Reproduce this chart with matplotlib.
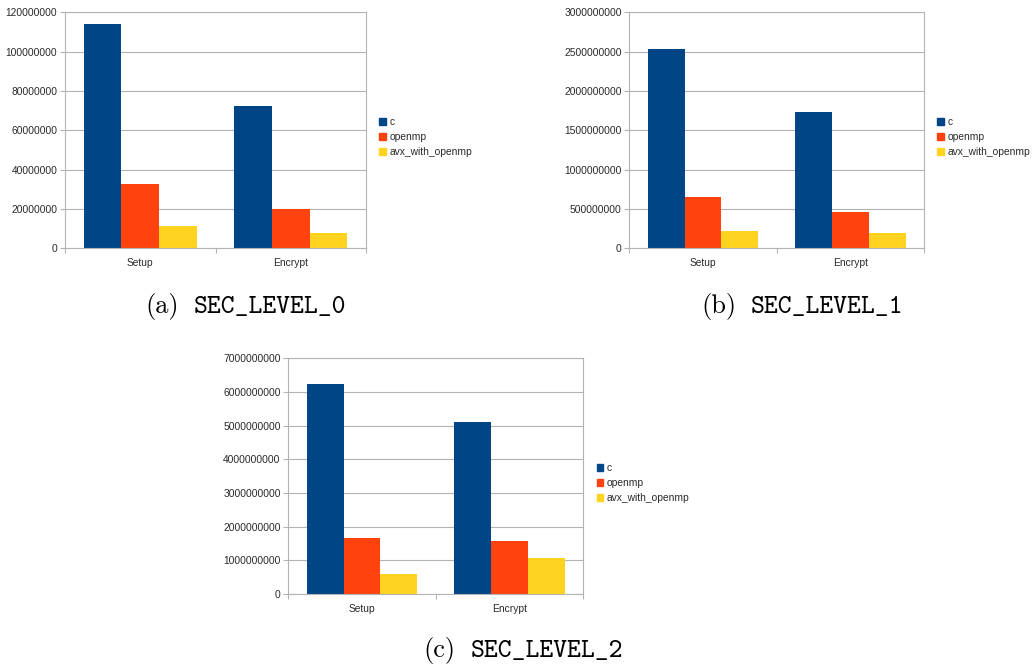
import numpy as np
import matplotlib
matplotlib.use("Agg")
import matplotlib.pyplot as plt
from matplotlib import ticker
from matplotlib.patches import Patch

plt.rcParams['font.family'] = ['Liberation Sans', 'DejaVu Sans']

# timings per security level (cycles)
categories = ['Setup', 'Encrypt']
series = ['c', 'openmp', 'avx_with_openmp']
colors = ['#004586', '#ff420e', '#ffd320']

level0_c = [113.9e6, 72.4e6]
level0_openmp = [32.5e6, 19.8e6]
level0_avx = [11.2e6, 7.8e6]

level1_c = [2538e6, 1733e6]
level1_openmp = [648e6, 462e6]
level1_avx = [220e6, 195e6]

level2_c = [6228e6, 5099e6]
level2_openmp = [1673e6, 1564e6]
level2_avx = [584e6, 1059e6]

captions = ['(a)', '(b)', '(c)']
level_names = ['SEC_LEVEL_0', 'SEC_LEVEL_1', 'SEC_LEVEL_2']

grey = '#b3b3b3'
text_col = '#2a2a2a'
fs = 7.4

fig = plt.figure(figsize=(10.32, 6.66), dpi=100)
W, H = 1032, 666


def px_axes(left, right, top, bottom):
    return fig.add_axes([left / W, 1 - bottom / H, (right - left) / W, (bottom - top) / H])


panels = [
    (px_axes(65, 366, 12.3, 248.3), [level0_c, level0_openmp, level0_avx], 120e6, 20e6, (1.044, 0.4716)),
    (px_axes(629.3, 924, 12.3, 248.3), [level1_c, level1_openmp, level1_avx], 3000e6, 500e6, (1.045, 0.4716)),
    (px_axes(288.3, 583, 358.3, 594), [level2_c, level2_openmp, level2_avx], 7000e6, 1000e6, (1.0465, 0.471)),
]

x = np.arange(len(categories))
bw = 0.25
for ax, data, ymax, step, leg_pos in panels:
    for i, (vals, col) in enumerate(zip(data, colors)):
        ax.bar(x + (i - 1) * bw, vals, bw, color=col, label=series[i], zorder=2)
    ax.set_xlim(-0.5, 1.5)
    ax.set_ylim(0, ymax)
    ax.set_yticks(np.arange(0, ymax + step / 2, step))
    ax.yaxis.set_major_formatter(ticker.StrMethodFormatter('{x:.0f}'))
    ax.set_axisbelow(True)
    ax.grid(axis='y', color=grey, lw=0.8, zorder=0)
    for sp in ax.spines.values():
        sp.set_color(grey)
        sp.set_linewidth(0.8)
    ax.tick_params(axis='y', length=3.5, width=0.8, color=grey, labelcolor=text_col,
                   labelsize=fs, pad=2)
    ax.set_xticks(x)
    ax.set_xticklabels(categories)
    ax.set_xticks([-0.5, 0.5, 1.5], minor=True)
    ax.tick_params(axis='x', which='major', length=0, pad=7, labelcolor=text_col, labelsize=fs)
    ax.tick_params(axis='x', which='minor', length=3.5, width=0.8, color=grey)
    handles = [Patch(color=c) for c in colors]
    ax.legend(handles, series, loc='center left', bbox_to_anchor=leg_pos, frameon=False,
              fontsize=7.4, handlelength=0.65, handleheight=0.65, handletextpad=0.35,
              borderaxespad=0, borderpad=0, labelspacing=0.5, labelcolor=text_col)

# sub-figure captions
cap_pos = [(145, 193.3, 312.7), (701.7, 751, 312.7), (423, 471, 657)]
for (xl, xn, yb), cap, name in zip(cap_pos, captions, level_names):
    fig.text(xl / W, 1 - yb / H, cap, family='cmr10', fontsize=19, va='baseline', ha='left')
    fig.text(xn / W, 1 - yb / H, name, family='cmtt10', fontsize=19, va='baseline', ha='left')

fig.savefig('out.png', dpi=100)
